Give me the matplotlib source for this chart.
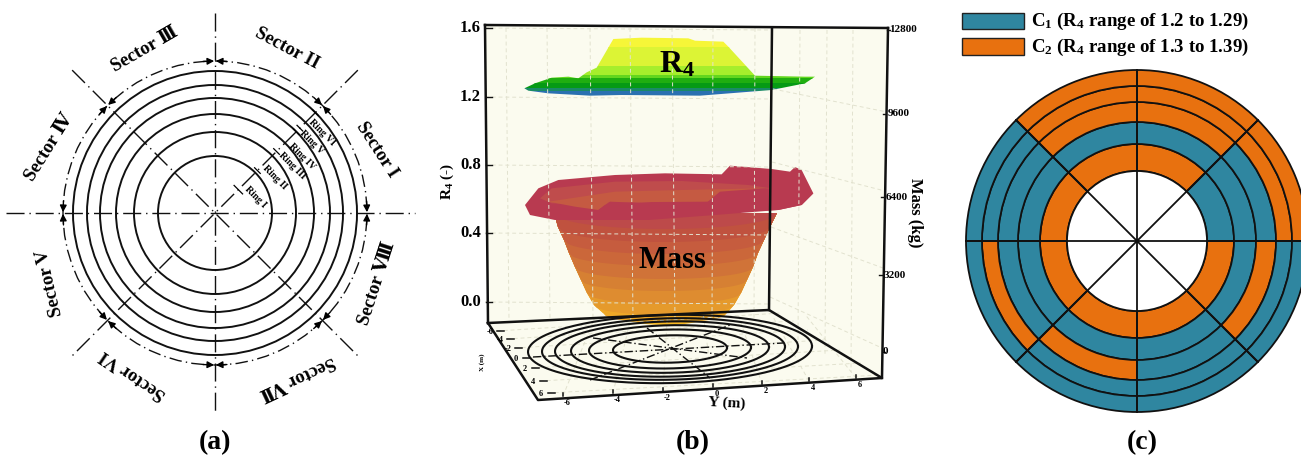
import numpy as np
import matplotlib
matplotlib.use("Agg")
import matplotlib.pyplot as plt
from matplotlib.patches import Circle, Wedge, Polygon, Rectangle

plt.rcParams.update({
    'font.family': ['Liberation Serif', 'DejaVu Serif'], 'font.weight': 'bold',
    'mathtext.fontset': 'custom', 'mathtext.rm': 'Liberation Serif:bold',
    'mathtext.it': 'Liberation Serif:bold', 'mathtext.bf': 'Liberation Serif:bold',
    'mathtext.default': 'rm'})

# ---------- panel (a) ----------
A_CENTER = (215, 213)
ring_radii_a = [57, 81, 99, 115, 128, 142]
sector_names = ['Sector I', 'Sector II', 'Sector Ⅲ', 'Sector Ⅳ',
                'Sector V', 'Sector VI', 'Sector Ⅶ', 'Sector Ⅷ']
sector_label_xy = [(377, 150), (287, 48), (145, 50), (49, 147),
                   (50, 283), (133, 375), (297, 377), (377, 283)]
sector_label_rot = [-57, -28, 30, 58, 103, 146, 205, 72]
ring_names = ['Ring I', 'Ring II', 'Ring III', 'Ring IV', 'Ring V', 'Ring VI']
ring_label_xy = [(255, 197), (275, 177), (292, 166), (302, 157), (312, 142), (322, 133)]
ring_tick_r = [33, 60, 87, 115, 120, 142]

# ---------- panel (b) ----------
z_ticks = ['1.6', '1.2', '0.8', '0.4', '0.0']
z_tick_y = [28, 97, 165, 233, 302]
mass_ticks = ['12800', '9600', '6400', '3200', '0']
mass_tick_xy = [(903, 30), (899, 114), (897, 197), (895, 275), (885, 352)]
front_ticks = ['-6', '-4', '-2', '0', '2', '4', '6']
front_tick_x = [563, 613, 663, 713, 762, 809, 856]
front_tick_y = [396, 393, 391, 387, 384, 381, 378]
side_tick_x = [497, 507, 515, 523, 532, 540, 548]
side_tick_y = [331, 339, 348, 358, 368, 381, 393]

# bowl levels: edge height, left edge, right edge, sag, colour
mass_y = [213, 227, 240, 253, 267, 280, 293, 305, 313, 317]
mass_l = [554, 558, 564, 569, 575, 581, 587, 594, 603, 625]
mass_r = [777, 770, 764, 758, 753, 747, 741, 734, 727, 705]
mass_sag = [16, 15, 14, 13, 12, 11, 11, 10, 10, 8]
mass_c = ['#bd4a4a', '#c0523f', '#c65c3e', '#cb673a', '#d07338', '#d68033',
          '#de8c30', '#e59a2c', '#eea828', '#f5b822']
rim_outer_x = [30, 70, 130, 300, 450, 620, 645, 770, 825, 840, 860, 895, 860, 790, 600, 400, 250, 120, 45]
rim_outer_y = [150, 100, 75, 60, 55, 58, 32, 42, 50, 36, 45, 115, 150, 165, 180, 195, 195, 195, 180]
rim_in1_x = [75, 110, 300, 500, 700, 770, 610, 300, 110]
rim_in1_y = [130, 100, 80, 78, 90, 100, 125, 150, 145]
rim_in2_x = [100, 300, 500, 740, 580, 280, 250, 180]
rim_in2_y = [140, 110, 105, 100, 140, 142, 165, 155]
rim_front_x = [250, 285, 400, 575, 615, 750, 800, 895, 860, 790, 600, 400]
rim_front_y = [165, 140, 145, 143, 110, 100, 105, 115, 150, 165, 172, 172]

r4_x = [28, 60, 110, 160, 190, 215, 245, 295, 380, 520, 540, 625, 640, 720, 870, 900, 870, 770, 555, 320, 225, 100, 40]
r4_y = [190, 175, 158, 155, 160, 142, 128, 42, 38, 40, 47, 50, 65, 152, 155, 155, 175, 195, 212, 210, 212, 205, 197]
r4_edges = [30, 66, 122, 150, 160, 175, 188, 198, 216]
r4_colors = ['#f6f638', '#dcf435', '#a6ee2c', '#62d61e', '#20ae10', '#069a14', '#1a8a66', '#2a70b0']

floor_radii = [57, 81, 99, 115, 128, 142]
floor_lines = [((533, 357), (783, 343)), ((647, 328), (710, 378)),
               ((593, 338), (747, 358)), ((590, 380), (730, 325))]

# ---------- panel (c) ----------
C_CENTER = (1137, 241)
ring_radii_c = [70, 97, 119, 139, 155, 171]
BLUE, ORANGE = '#2f86a0', '#e8710f'
# one row per 45 degree sector (counter-clockwise from east), inner to outer ring
# b = C1, o = C2
class_grid = ['bbboo', 'obooo', 'obooo', 'obbbb', 'obbob', 'obobb', 'obbbb', 'obobb']
legend_labels = ['C$_{1}$ (R$_{4}$ range of 1.2 to 1.29)', 'C$_{2}$ (R$_{4}$ range of 1.3 to 1.39)']

fig = plt.figure(figsize=(13.01, 4.58), dpi=100)
ax = fig.add_axes([0, 0, 1, 1])
ax.set_xlim(0, 1301)
ax.set_ylim(458, 0)
ax.axis('off')

DASHDOT = (0, (13, 3.5, 1, 3.5))
DASHDOT2 = (0, (9, 3, 1, 3))
cx, cy = A_CENTER


def pol(r, deg):
    t = np.deg2rad(deg)
    return cx + r * np.cos(t), cy - r * np.sin(t)


for r in ring_radii_a:
    ax.add_patch(Circle(A_CENTER, r, fill=False, ec='#111111', lw=1.4))
ax.add_patch(Circle(A_CENTER, 152, fill=False, ec='#111111', lw=1.0, ls=DASHDOT2))
ax.plot([6, 415], [cy, cy], color='#111111', lw=1.0, ls=DASHDOT)
ax.plot([cx, cx], [13, 413], color='#111111', lw=1.0, ls=DASHDOT)
for d in (45, 135):
    p, q = pol(202, d), pol(202, d + 180)
    ax.plot([p[0], q[0]], [p[1], q[1]], color='#111111', lw=1.0, ls=DASHDOT)
for d in range(0, 360, 45):
    for s in (-1, 1):
        tail, tip = pol(152, d + s * 4.5), pol(152, d + s * 0.3)
        ax.annotate('', xy=tip, xytext=tail,
                    arrowprops=dict(arrowstyle='-|>', color='black', lw=1.0,
                                    shrinkA=0, shrinkB=0, mutation_scale=10))
for name, xy, rot in zip(sector_names, sector_label_xy, sector_label_rot):
    ax.text(*xy, name, rotation=rot, ha='center', va='center', fontsize=13.5, rotation_mode='anchor')
for name, xy in zip(ring_names, ring_label_xy):
    ax.text(*xy, name, rotation=-45, ha='center', va='center', fontsize=7, rotation_mode='anchor')
for r in ring_tick_r:
    c = np.array(pol(r, 45))
    u = np.array([1, 1]) / np.sqrt(2) * (6 if r == 33 else 4)
    ax.plot([c[0] - u[0], c[0] + u[0]], [c[1] - u[1], c[1] + u[1]], color='black', lw=0.9)

# panel (b) box
WALL = '#fbfbef'
GRID = dict(color='#e2e2cf', lw=0.7, ls=(0, (4, 3)))
ax.add_patch(Polygon([(485, 25), (772, 28), (769, 310), (488, 323)], fc=WALL, ec='none'))
ax.add_patch(Polygon([(772, 28), (888, 28), (882, 378), (769, 310)], fc=WALL, ec='none'))
ax.add_patch(Polygon([(488, 323), (769, 310), (882, 378), (538, 400)], fc=WALL, ec='none'))
for x in (506, 547, 590, 630, 672, 713, 755):
    ax.plot([x, x - 1 if x > 700 else x + 3], [28, 320], **GRID)
for y in z_tick_y:
    ax.plot([485, 771], [y, y + 2], **GRID)
for a, b in [((773, 89), (887, 112)), ((772, 162), (885, 191)), ((771, 227), (883, 268)), ((770, 297), (882, 348))]:
    ax.plot([a[0], b[0]], [a[1], b[1]], **GRID)
for x in (800, 827, 853):
    ax.plot([x, x - 2], [30, 340 + (x - 800) * 0.6], **GRID)
for xf, yf in zip(front_tick_x, front_tick_y):
    ax.plot([xf, xf * 0.72 + 190], [yf, 316], **GRID)
for xs, ys in zip(side_tick_x, side_tick_y):
    ax.plot([xs, 880 - (393 - ys) * 1.6], [ys, ys - 18], **GRID)

FRAME = dict(color='#111111', lw=1.8, solid_capstyle='projecting')
ax.plot([485, 888], [25, 28], **FRAME)
ax.plot([485, 488], [25, 323], **FRAME)
ax.plot([772, 769], [28, 310], **FRAME)
ax.plot([888, 882], [28, 378], **FRAME)
ax.plot([488, 769, 882, 538, 488], [323, 310, 378, 400, 323], **FRAME)

for lab, y in zip(z_ticks, z_tick_y):
    ax.text(481, y, lab, ha='right', va='center', fontsize=12)
    ax.plot([486, 492], [y, y], color='#111111', lw=1)
for lab, (x, y) in zip(mass_ticks, mass_tick_xy):
    ax.text(x, y, lab, ha='center', va='center', fontsize=8)
    ax.plot([x - 16 if lab != '0' else x - 2, x - 13 if lab != '0' else x + 0], [y, y], color='#111111', lw=1)
for lab, x, y in zip(front_ticks, front_tick_x, front_tick_y):
    ax.plot([x, x], [y - 3, y], color='#111111', lw=1.1)
    ax.text(x + 4, y + 7, lab, ha='center', va='center', fontsize=6)
for lab, x, y in zip(front_ticks, side_tick_x, side_tick_y):
    ax.plot([x, x + 7], [y, y], color='#111111', lw=1.1)
    ax.text(x - 7, y + 1, lab, ha='center', va='center', fontsize=6)
ax.text(447, 181, 'R$_{4}$ (-)', rotation=90, ha='center', va='center', fontsize=11)
ax.text(915, 213, 'Mass (kg)', rotation=-90, ha='center', va='center', fontsize=12)
ax.text(727, 403, 'Y (m)', rotation=-3, ha='center', va='center', fontsize=11)
ax.text(482, 362, 'X (m)', rotation=90, ha='center', va='center', fontsize=5)

# floor rings
for r in floor_radii:
    t = np.linspace(0, 2 * np.pi, 240)
    ax.plot(670 + r * np.cos(t), 349 + 0.24 * r * np.sin(t) - 0.02 * r * np.cos(t), color='#111111', lw=1.5)
for a, b in floor_lines:
    ax.plot([a[0], b[0]], [a[1], b[1]], color='#111111', lw=1.0, ls=(0, (6, 2, 1, 2)))

# bowl body, painted bottom-up so each upper band overlaps with a curved edge
for i in range(len(mass_y) - 1, -1, -1):
    xs = np.linspace(mass_l[i], mass_r[i], 50)
    u = (xs - mass_l[i]) / (mass_r[i] - mass_l[i]) * 2 - 1
    ys = mass_y[i] + mass_sag[i] * np.sqrt(1 - u ** 2)
    right = list(zip(mass_r[i::-1], mass_y[i::-1]))
    left = list(zip(mass_l[:i + 1], mass_y[:i + 1]))
    ax.add_patch(Polygon(np.vstack([np.column_stack([xs, ys]), right, left]), fc=mass_c[i], ec='none'))


def crop(xs, ys, x0, y0):
    return np.column_stack([x0 + np.array(xs) / 3, y0 + np.array(ys) / 3])


ax.add_patch(Polygon(crop(rim_outer_x, rim_outer_y, 515, 155), fc='#b83a50', ec='none'))
ax.add_patch(Polygon(crop(rim_in1_x, rim_in1_y, 515, 155), fc='#bf4c4c', ec='none'))
ax.add_patch(Polygon(crop(rim_in2_x, rim_in2_y, 515, 155), fc='#c55a42', ec='none'))
ax.add_patch(Polygon(crop(rim_front_x, rim_front_y, 515, 155), fc='#b83a50', ec='none'))

# R4 surface: contour bands clipped to the silhouette
sil = Polygon(crop(r4_x, r4_y, 515, 25), fc='none', ec='none')
ax.add_patch(sil)
for y0, y1, c in zip(r4_edges[:-1], r4_edges[1:], r4_colors):
    band = Rectangle((515, 25 + y0 / 3), 310, (y1 - y0) / 3 + 0.5, fc=c, ec='none')
    ax.add_patch(band)
    band.set_clip_path(sil)

ax.text(677, 65, 'R$_{4}$', ha='center', va='center', fontsize=23)
ax.text(672, 261, 'Mass', ha='center', va='center', fontsize=22)

# panel (c)
for i, row in enumerate(class_grid):
    for j, k in enumerate(row):
        t0 = -(i + 1) * 45
        ax.add_patch(Wedge(C_CENTER, ring_radii_c[j + 1], t0, t0 + 45,
                           width=ring_radii_c[j + 1] - ring_radii_c[j],
                           fc=BLUE if k == 'b' else ORANGE, ec='#111111', lw=1.3))
ax.add_patch(Circle(C_CENTER, ring_radii_c[0], fc='white', ec='#111111', lw=1.3))
for d in range(0, 180, 45):
    t = np.deg2rad(d)
    ax.plot([C_CENTER[0] - 171 * np.cos(t), C_CENTER[0] + 171 * np.cos(t)],
            [C_CENTER[1] - 171 * np.sin(t), C_CENTER[1] + 171 * np.sin(t)], color='#111111', lw=1.3)
ax.add_patch(Circle(C_CENTER, 2, fc='#111111', ec='none'))
for y, col, lab in zip((12.5, 38), (BLUE, ORANGE), legend_labels):
    ax.add_patch(Rectangle((962, y), 62, 16.5, fc=col, ec='#222222', lw=1))
    ax.text(1031, y + 9, lab, ha='left', va='center', fontsize=13.6)

for lab, x in zip(['(a)', '(b)', '(c)'], (215, 693, 1142)):
    ax.text(x, 443, lab, ha='center', va='center', fontsize=20)

fig.savefig('out.png', dpi=100)
